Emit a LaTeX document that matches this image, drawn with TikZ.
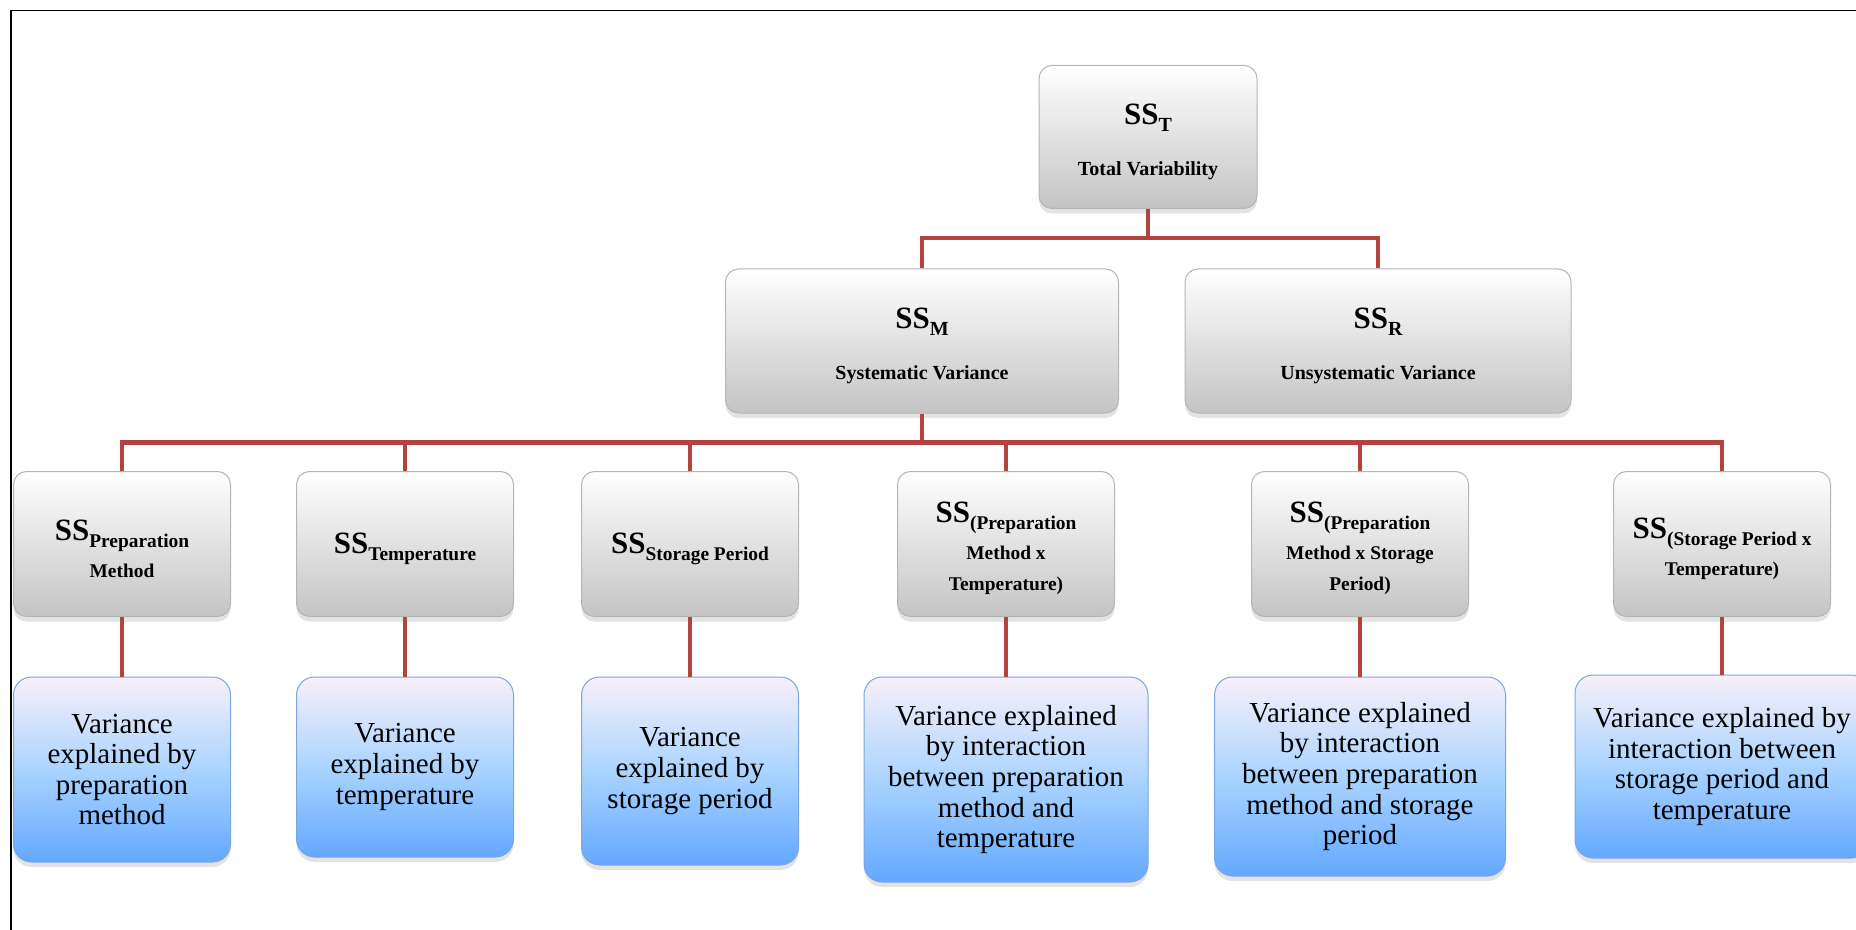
\documentclass[tikz,border=0pt]{standalone}
\usepackage{fontspec}
\setmainfont{Liberation Serif}
\usepackage{tikz}
\usetikzlibrary{graphs, shadows}

\definecolor{linkred}{HTML}{B4423F}
\definecolor{greybot}{HTML}{C4C4C4}
\definecolor{greyedge}{HTML}{B5B5B5}
\definecolor{bluetop}{HTML}{F8F0FA}
\definecolor{bluemid}{HTML}{AAD4FF}
\definecolor{bluebot}{HTML}{63A8FF}
\definecolor{blueedge}{HTML}{7AA6E2}

% big SS with a lowered bold subscript (optional argument is the subscript size)
% the invisible rule pushes the text block a little lower in the box
\newcommand{\SSof}[2][9.7]{\rule{0pt}{15pt}{\fontsize{15.5}{18}\selectfont SS}\raisebox{-3.5pt}{\fontsize{#1}{15.5}\selectfont #2}}

\tikzset{
  sumbox/.style={rectangle, rounded corners=6.5pt, draw=greyedge, line width=0.5pt,
    top color=white, bottom color=greybot, align=center, inner sep=0pt,
    font=\bfseries\fontsize{9.7}{15.5}\selectfont,
    drop shadow={shadow xshift=0pt, shadow yshift=-2.5pt, opacity=0.22}},
  varbox/.style={rectangle, rounded corners=9pt, draw=blueedge, line width=0.5pt,
    top color=bluetop, bottom color=bluebot, middle color=bluemid,
    align=center, inner sep=0pt,
    font=\fontsize{14.5}{15.3}\selectfont,
    drop shadow={shadow xshift=0pt, shadow yshift=-2.5pt, opacity=0.22}},
  elbowline/.style={draw=linkred, line width=2.4pt,
    to path={(\tikztostart.south) -- ++(0,29) -| (\tikztotarget.north)}}
}

\begin{document}
\begin{tikzpicture}[x=0.5pt, y=-0.5pt]
        % I put the coordinates in pixels of the original picture,
        % so the y axis points down here (y=-0.5pt)
        \useasboundingbox (0,0) rectangle (1856,930);
        \clip (0,0) rectangle (1856,930);

        % the frame is cut off on the right and at the bottom
        \draw[line width=0.7pt] (11,960) -- (11,10.5) -- (1900,10.5);

        % top and middle row
        \node[sumbox, minimum width=109pt, minimum height=71.5pt] (T) at (1148,137)
            {\SSof[10]{T}\\[10pt] {\fontsize{10}{15.5}\selectfont Total Variability}};
        \node[sumbox, minimum width=196.5pt, minimum height=72pt] (M) at (922,341)
            {\SSof[10]{M}\\[10pt] {\fontsize{10}{15.5}\selectfont Systematic Variance}};
        \node[sumbox, minimum width=193pt, minimum height=72pt] (R) at (1378,341)
            {\SSof[10]{R}\\[10pt] {\fontsize{10}{15.5}\selectfont Unsystematic Variance}};

        % the sums of squares for each effect
        \node[sumbox, minimum width=108.5pt, minimum height=72.5pt] (P1) at (122,544)
            {\SSof{Preparation}\\[3pt] Method};
        \node[sumbox, minimum width=108.5pt, minimum height=72.5pt] (P2) at (405,544)
            {\SSof{Temperature}};
        \node[sumbox, minimum width=108.5pt, minimum height=72.5pt] (P3) at (690,544)
            {\SSof{Storage Period}};
        \node[sumbox, minimum width=108.5pt, minimum height=72.5pt] (P4) at (1006,544)
            {\SSof{(Preparation}\\[3pt] Method x\\ Temperature)};
        \node[sumbox, minimum width=108.5pt, minimum height=72.5pt] (P5) at (1360,544)
            {\SSof{(Preparation}\\[3pt] Method x Storage\\ Period)};
        \node[sumbox, minimum width=108.5pt, minimum height=72.5pt] (P6) at (1722,544)
            {\SSof{(Storage Period x}\\[3pt] Temperature)};

        % the blue boxes say in words what each one explains
        \node[varbox, minimum width=108.5pt, minimum height=92.5pt] (V1) at (122,769.5)
            {Variance\\ explained by\\ preparation\\ method};
        \node[varbox, minimum width=108.5pt, minimum height=90pt] (V2) at (405,767)
            {Variance\\ explained by\\ temperature};
        \node[varbox, minimum width=108.5pt, minimum height=94pt] (V3) at (690,771)
            {Variance\\ explained by\\ storage period};
        \node[varbox, minimum width=142pt, minimum height=102.5pt] (V4) at (1006,779.5)
            {Variance explained\\ by interaction\\ between preparation\\ method and\\ temperature};
        \node[varbox, minimum width=145.5pt, minimum height=99.5pt] (V5) at (1360,776.5)
            {Variance explained\\ by interaction\\ between preparation\\ method and storage\\ period};
        \node[varbox, minimum width=147pt, minimum height=91.5pt] (V6) at (1722,766.5)
            {Variance explained by\\ interaction between\\ storage period and\\ temperature};

        % the existing nodes are only joined here,
        % the elbowline style turns every edge into a bracket shape
        \graph[use existing nodes, edges={elbowline}] {
            T -- {M, R};
            M -- {P1, P2, P3, P4, P5, P6};
            P1 -- V1; P2 -- V2; P3 -- V3;
            P4 -- V4; P5 -- V5; P6 -- V6;
        };
    \end{tikzpicture}
\end{document}
